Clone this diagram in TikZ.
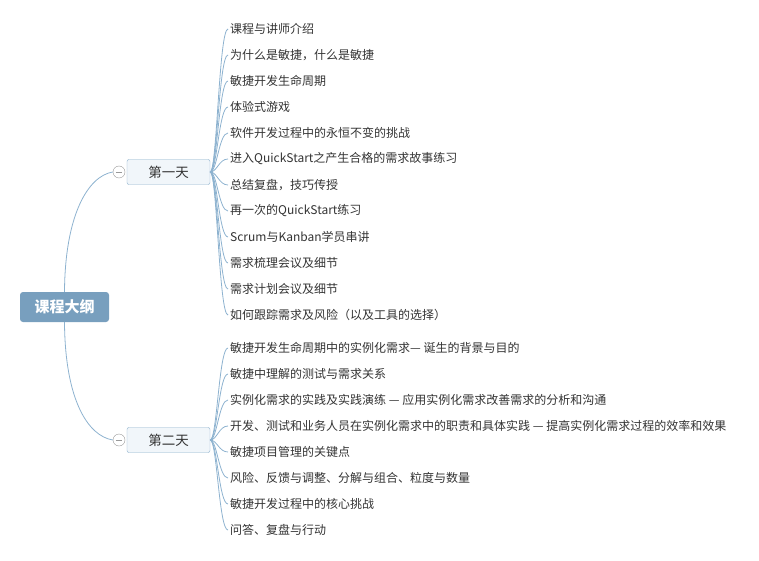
\documentclass[tikz,border=0pt]{standalone}
\usepackage{fontspec}
\setmainfont{Noto Sans CJK SC}
\definecolor{rootblue}{HTML}{789FBE}
\definecolor{linkblue}{HTML}{8DB2CF}
\definecolor{dayfill}{HTML}{F1F6FA}
\definecolor{dayline}{HTML}{8AAECB}
\definecolor{txtgray}{HTML}{333333}

\begin{document}
\begin{tikzpicture}[x=1pt,y=-1pt]
\tikzstyle{root}=[fill=rootblue, rounded corners=3pt, text=white, font=\fontsize{15}{17}\selectfont\bfseries, minimum width=89pt, minimum height=30pt, inner sep=0pt]
\tikzstyle{day}=[draw=dayline, fill=dayfill, rounded corners=2pt, text=txtgray, font=\fontsize{13.5}{15}\selectfont, minimum width=83pt, minimum height=25pt, inner sep=0pt]
\tikzstyle{toggle}=[draw=gray!80, fill=white, circle, minimum size=12pt, inner sep=0pt]
\tikzstyle{item}=[anchor=west, text=txtgray, font=\fontsize{12}{14}\selectfont, inner sep=2pt]
\tikzstyle{link}=[draw=linkblue, line width=0.8pt]
\useasboundingbox (0,0) rectangle (759,561);

\node [root] (outline) at (64.5,307) {课程大纲};
\node [day] (day1) at (168.5,172) {第一天};
\node [day] (day2) at (168.5,440) {第二天};
\node [toggle] (t1) at (119,172) {};
\node [toggle] (t2) at (119,440) {};
\draw [gray!80] ([xshift=3pt]t1.west) -- ([xshift=-3pt]t1.east);
\draw [gray!80] ([xshift=3pt]t2.west) -- ([xshift=-3pt]t2.east);
\draw [link] (outline.north) .. controls (65,215) and (88,176) .. (t1.west);
\draw [link] (outline.south) .. controls (65,400) and (88,436) .. (t2.west);

% first day
\node [item] (a1) at (228,29) {课程与讲师介绍};
\node [item] (a2) at (228,55) {为什么是敏捷，什么是敏捷};
\node [item] (a3) at (228,81) {敏捷开发生命周期};
\node [item] (a4) at (228,107) {体验式游戏};
\node [item] (a5) at (228,133) {软件开发过程中的永恒不变的挑战};
\node [item] (a6) at (228,159) {进入QuickStart之产生合格的需求故事练习};
\node [item] (a7) at (228,185) {总结复盘，技巧传授};
\node [item] (a8) at (228,211) {再一次的QuickStart练习};
\node [item] (a9) at (228,237) {Scrum与Kanban学员串讲};
\node [item] (a10) at (228,263) {需求梳理会议及细节};
\node [item] (a11) at (228,289) {需求计划会议及细节};
\node [item] (a12) at (228,315) {如何跟踪需求及风险（以及工具的选择）};
\draw [link] (day1.east) .. controls (217,172) and (219,29) .. (a1.west);
\draw [link] (day1.east) .. controls (217,172) and (219,55) .. (a2.west);
\draw [link] (day1.east) .. controls (217,172) and (219,81) .. (a3.west);
\draw [link] (day1.east) .. controls (217,172) and (219,107) .. (a4.west);
\draw [link] (day1.east) .. controls (217,172) and (219,133) .. (a5.west);
\draw [link] (day1.east) .. controls (217,172) and (219,159) .. (a6.west);
\draw [link] (day1.east) .. controls (217,172) and (219,185) .. (a7.west);
\draw [link] (day1.east) .. controls (217,172) and (219,211) .. (a8.west);
\draw [link] (day1.east) .. controls (217,172) and (219,237) .. (a9.west);
\draw [link] (day1.east) .. controls (217,172) and (219,263) .. (a10.west);
\draw [link] (day1.east) .. controls (217,172) and (219,289) .. (a11.west);
\draw [link] (day1.east) .. controls (217,172) and (219,315) .. (a12.west);

% second day
\node [item] (b1) at (228,348) {敏捷开发生命周期中的实例化需求— 诞生的背景与目的};
\node [item] (b2) at (228,374) {敏捷中理解的测试与需求关系};
\node [item] (b3) at (228,400) {实例化需求的实践及实践演练 — 应用实例化需求改善需求的分析和沟通};
\node [item] (b4) at (228,426) {开发、测试和业务人员在实例化需求中的职责和具体实践 — 提高实例化需求过程的效率和效果};
\node [item] (b5) at (228,452) {敏捷项目管理的关键点};
\node [item] (b6) at (228,478) {风险、反馈与调整、分解与组合、粒度与数量};
\node [item] (b7) at (228,504) {敏捷开发过程中的核心挑战};
\node [item] (b8) at (228,530) {问答、复盘与行动};
\draw [link] (day2.east) .. controls (217,440) and (219,348) .. (b1.west);
\draw [link] (day2.east) .. controls (217,440) and (219,374) .. (b2.west);
\draw [link] (day2.east) .. controls (217,440) and (219,400) .. (b3.west);
\draw [link] (day2.east) .. controls (217,440) and (219,426) .. (b4.west);
\draw [link] (day2.east) .. controls (217,440) and (219,452) .. (b5.west);
\draw [link] (day2.east) .. controls (217,440) and (219,478) .. (b6.west);
\draw [link] (day2.east) .. controls (217,440) and (219,504) .. (b7.west);
\draw [link] (day2.east) .. controls (217,440) and (219,530) .. (b8.west);
\end{tikzpicture}
\end{document}
